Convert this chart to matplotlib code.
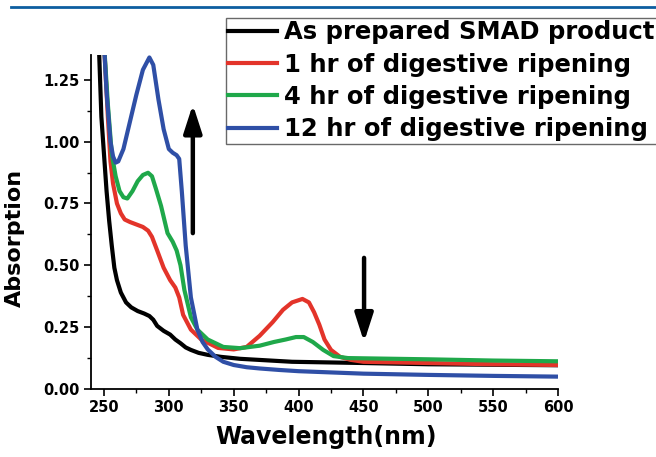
import numpy as np
import matplotlib
matplotlib.use("Agg")
import matplotlib.pyplot as plt
from matplotlib.ticker import MultipleLocator
from matplotlib.lines import Line2D

# values
wl_black = [246, 248, 250, 252, 254, 256, 258, 260, 263, 267, 271, 276, 281, 285, 288, 291,
            296, 301, 305, 309, 313, 317, 323, 330, 340, 355, 375, 395, 450, 500, 550, 600]
abs_black = [1.40, 1.10, 0.95, 0.80, 0.68, 0.58, 0.49, 0.44, 0.39, 0.35, 0.33, 0.315, 0.305, 0.295, 0.28, 0.255,
             0.235, 0.22, 0.20, 0.185, 0.168, 0.158, 0.146, 0.138, 0.13, 0.122, 0.116, 0.11, 0.105, 0.10, 0.098, 0.096]

wl_red = [250, 253, 255, 257, 260, 263, 266, 270, 275, 280, 284, 287, 291, 296, 301, 305, 308, 311, 317, 325,
          338, 350, 360, 370, 380, 388, 395, 403, 408, 412, 416, 420, 425, 432, 440, 450, 500, 550, 600]
abs_red = [1.40, 1.10, 0.92, 0.83, 0.75, 0.71, 0.685, 0.675, 0.665, 0.655, 0.64, 0.615, 0.56, 0.49, 0.44, 0.41,
           0.37, 0.30, 0.24, 0.20, 0.166, 0.16, 0.17, 0.215, 0.27, 0.32, 0.35, 0.364, 0.35, 0.31, 0.26, 0.20,
           0.158, 0.13, 0.118, 0.11, 0.105, 0.10, 0.097]

wl_green = [250, 253, 256, 259, 262, 265, 268, 272, 276, 280, 284, 287, 290, 294, 299, 303, 306, 309, 312, 317,
            322, 330, 342, 355, 370, 381, 390, 398, 404, 411, 419, 427, 438, 450, 500, 550, 600]
abs_green = [1.40, 1.15, 0.95, 0.86, 0.80, 0.775, 0.77, 0.80, 0.84, 0.865, 0.874, 0.86, 0.81, 0.74, 0.63, 0.595,
             0.56, 0.50, 0.40, 0.29, 0.24, 0.20, 0.17, 0.165, 0.175, 0.19, 0.20, 0.21, 0.21, 0.19, 0.158, 0.133,
             0.125, 0.124, 0.12, 0.115, 0.112]

wl_blue = [250, 252, 255, 257, 259, 261, 265, 270, 275, 280, 285, 288, 292, 296, 300, 303, 306, 308, 310, 313,
           317, 322, 326, 330, 336, 342, 350, 360, 370, 385, 400, 450, 500, 550, 600]
abs_blue = [1.40, 1.20, 1.00, 0.94, 0.915, 0.92, 0.97, 1.08, 1.19, 1.29, 1.34, 1.31, 1.17, 1.05, 0.97, 0.955,
            0.945, 0.93, 0.80, 0.58, 0.37, 0.24, 0.19, 0.16, 0.13, 0.11, 0.097, 0.088, 0.083, 0.077, 0.072,
            0.062, 0.057, 0.053, 0.050]

labels = ["As prepared SMAD product", "1 hr of digestive ripening",
          "4 hr of digestive ripening", "12 hr of digestive ripening"]
colors = ["black", "#e3342a", "#1fa84a", "#2f4fa6"]

plt.rcParams['font.family'] = ['DejaVu Sans']
plt.rcParams['font.weight'] = 'bold'

fig = plt.figure(figsize=(6.56, 4.57), dpi=100)
ax = fig.add_axes([91 / 656, 1 - 389 / 457, 467 / 656, 334 / 457])

series = [(wl_black, abs_black), (wl_red, abs_red), (wl_green, abs_green), (wl_blue, abs_blue)]
for (x, y), c in zip(series, colors):
    ax.plot(x, y, color=c, lw=3.0, solid_joinstyle='round', solid_capstyle='butt')

ax.set_xlim(240, 600)
ax.set_ylim(0, 1.35)
ax.xaxis.set_major_locator(MultipleLocator(50))
ax.xaxis.set_minor_locator(MultipleLocator(25))
ax.yaxis.set_major_locator(MultipleLocator(0.25))
ax.yaxis.set_minor_locator(MultipleLocator(0.125))
ax.set_xticks([250, 300, 350, 400, 450, 500, 550, 600])
ax.yaxis.set_major_formatter(matplotlib.ticker.FormatStrFormatter('%.2f'))
ax.tick_params(which='major', direction='out', length=5, width=1.2, labelsize=10.5, pad=3)
ax.tick_params(which='minor', direction='out', length=3, width=1.0)
for s in ['top', 'right']:
    ax.spines[s].set_visible(False)
for s in ['left', 'bottom']:
    ax.spines[s].set_linewidth(1.3)

fig.text(326 / 656, 1 - 437 / 457, "Wavelength(nm)", ha='center', va='center',
         fontsize=17, fontweight='bold')
fig.text(15 / 656, 1 - 238 / 457, "Absorption", ha='center', va='center',
         rotation=90, fontsize=16, fontweight='bold')

# arrows
arrow_style = dict(arrowstyle='-|>,head_width=0.55,head_length=1.7', lw=3.2, color='black',
                   shrinkA=0, shrinkB=0)
ax.annotate('', xy=(318.5, 1.15), xytext=(318.5, 0.63), arrowprops=arrow_style)
ax.annotate('', xy=(450.5, 0.19), xytext=(450.5, 0.53), arrowprops=arrow_style)

handles = [Line2D([0], [0], color=c, lw=3.0) for c in colors]
leg = fig.legend(handles, labels, loc='upper left', bbox_to_anchor=(226 / 656, 1 - 18 / 457),
                 prop={'size': 17.5, 'weight': 'bold'}, frameon=True, fancybox=False,
                 borderpad=0.1, borderaxespad=0, handlelength=2.0, handletextpad=0.28,
                 labelspacing=0.34)
leg.get_frame().set_edgecolor('#444444')
leg.get_frame().set_linewidth(1.0)

# journal header rule
fig.add_artist(Line2D([11 / 656, 1.0], [1 - 7 / 457, 1 - 7 / 457], color='#0d5ea0', lw=2.0))

fig.savefig("out.png", dpi=100)
